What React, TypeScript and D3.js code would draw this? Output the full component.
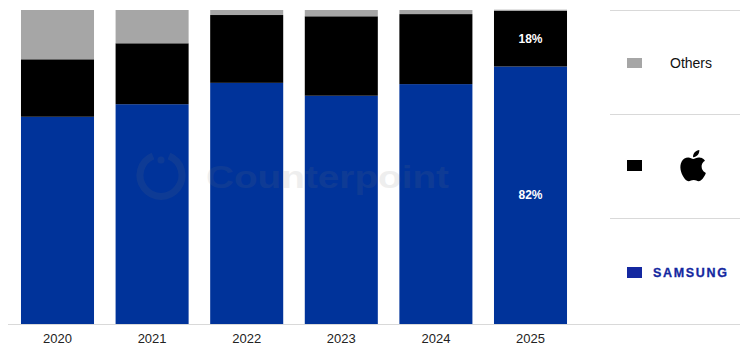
import React from "react";
import * as d3 from "d3";

const years = ["2020", "2021", "2022", "2023", "2024", "2025"];
const samsung = [66.0, 70.0, 76.8, 72.7, 76.4, 82.0];
const apple = [18.3, 19.4, 21.6, 25.3, 22.3, 17.8];
const others = [15.7, 10.6, 1.6, 2.0, 1.3, 0.3];
const seriesKeys = ["samsung", "apple", "others"];
const colors: Record<string, string> = { samsung: "#00339A", apple: "#000000", others: "#A6A6A6" };
const labels2025 = ["82%", "18%"];

const W = 740, H = 352;
const APPLE_PATH =
  "M12.152 6.896c-.948 0-2.415-1.078-3.96-1.04-2.04.027-3.91 1.183-4.961 3.014-2.117 3.675-.546 9.103 1.519 12.09 1.013 1.454 2.208 3.09 3.792 3.039 1.52-.065 2.09-.987 3.935-.987 1.831 0 2.35.987 3.96.948 1.637-.026 2.676-1.48 3.676-2.948 1.156-1.688 1.636-3.325 1.662-3.415-.039-.013-3.182-1.221-3.22-4.857-.026-3.04 2.48-4.494 2.597-4.559-1.429-2.09-3.623-2.324-4.39-2.376-2-.156-3.675 1.09-4.61 1.09zM15.53 3.83c.843-1.012 1.4-2.427 1.245-3.83-1.207.052-2.662.805-3.532 1.818-.78.896-1.454 2.338-1.273 3.714 1.338.104 2.715-.688 3.559-1.701";

export default function App() {
  const rows = years.map((y, i) => ({ year: y, samsung: samsung[i], apple: apple[i], others: others[i] }));
  const stacked = d3.stack<any>().keys(seriesKeys)(rows);
  const x = d3.scaleBand<string>().domain(years).range([10.2, 577.8]).paddingInner(0.228).paddingOuter(0.114);
  const y = d3.scaleLinear().domain([0, 100]).range([324, 10]);
  const font = "Arial, 'Liberation Sans', Helvetica, sans-serif";
  const last = years.length - 1;

  return (
    <svg width={W} height={H} style={{ position: "absolute", left: 0, top: 0 }} fontFamily={font}>
      <rect width={W} height={H} fill="#fff" />
      {stacked.map((s) => (
        <g key={s.key} fill={colors[s.key]}>
          {s.map((d, i) => (
            <rect
              key={i}
              x={x(years[i])}
              width={x.bandwidth()}
              y={y(d[1])}
              height={Math.max(0, y(d[0]) - y(d[1]))}
            />
          ))}
        </g>
      ))}
      {/* watermark */}
      <g opacity={0.12} fill="#777">
        <path d="M 153 156 A 21 21 0 1 0 169 156" fill="none" stroke="#777" strokeWidth={7} />
        <circle cx={161} cy={160} r={3.5} />
        <text x={206} y={188} fontSize={31} fontWeight="bold" fontFamily={font} textLength={243} lengthAdjust="spacingAndGlyphs">Counterpoint</text>
      </g>
      {/* labels 2025 */}
      <text x={x(years[last])! + x.bandwidth() / 2} y={(y(0) + y(samsung[last])) / 2 + 4} textAnchor="middle" fill="#fff" fontSize={12} fontWeight="bold">{labels2025[0]}</text>
      <text x={x(years[last])! + x.bandwidth() / 2} y={(y(samsung[last]) + y(samsung[last] + apple[last])) / 2 + 4} textAnchor="middle" fill="#fff" fontSize={12} fontWeight="bold">{labels2025[1]}</text>
      {/* axis */}
      <line x1={8} x2={740} y1={324.5} y2={324.5} stroke="#D9D9D9" strokeWidth={1} />
      {years.map((yr) => (
        <text key={yr} x={x(yr)! + x.bandwidth() / 2} y={343} textAnchor="middle" fontSize={13} fill="#222">{yr}</text>
      ))}
      {/* legend */}
      {[10.5, 114.5, 218.5].map((ly) => (
        <line key={ly} x1={610} x2={740} y1={ly} y2={ly} stroke="#D9D9D9" strokeWidth={1} />
      ))}
      <rect x={627} y={58} width={15} height={10} fill={colors.others} />
      <text x={670} y={68} fontSize={14} fill="#111">Others</text>
      <rect x={627} y={160} width={15} height={11} fill={colors.apple} />
      <path d={APPLE_PATH} transform="translate(677.5,150) scale(1.3)" fill="#000" />
      <rect x={627} y={267} width={15} height={11} fill="#1428A0" />
      <text x={653} y={277} fontSize={12.5} fontWeight="bold" fill="#1428A0" stroke="#1428A0" strokeWidth={0.3} textLength={74} lengthAdjust="spacing">SAMSUNG</text>
    </svg>
  );
}
